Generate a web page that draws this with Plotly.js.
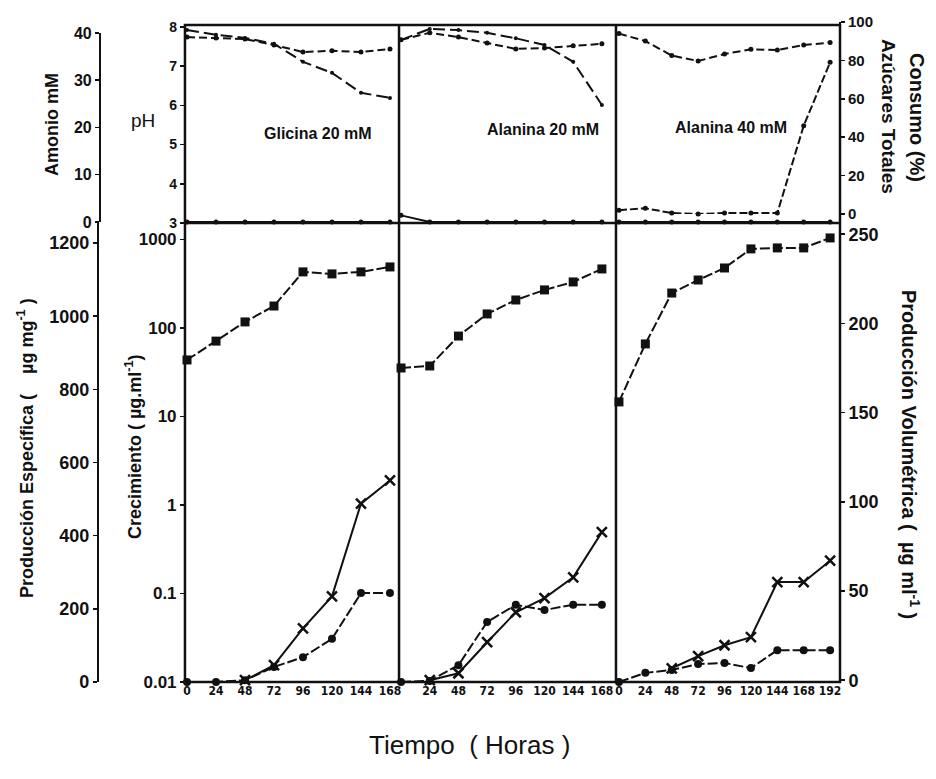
<!DOCTYPE html>
<html><head><meta charset="utf-8">
<script src="https://cdn.plot.ly/plotly-3.0.1.min.js"></script>
<style>html,body{margin:0;padding:0;background:#fff}</style>
</head><body><div id="chart" style="width:936px;height:779px"></div>
<script>
// ---- data ----
const hours168 = [0, 24, 48, 72, 96, 120, 144, 168];
const hours192 = [0, 24, 48, 72, 96, 120, 144, 168, 192];
const ticks168 = ['0', '24', '48', '72', '96', '120', '144', '168'];
const ticks168b = ['24', '48', '72', '96', '120', '144', '168'];
const ticks192 = ['0', '24', '48', '72', '96', '120', '144', '168', '192'];
const panelNames = ['Glicina 20 mM', 'Alanina 20 mM', 'Alanina 40 mM'];

// upper panel: pH
const phA_gly = [7.74, 7.72, 7.69, 7.54, 7.36, 7.39, 7.36, 7.44];
const phB_gly = [7.92, 7.80, 7.72, 7.57, 7.11, 6.83, 6.32, 6.19];
const phA_ala20 = [7.67, 7.85, 7.74, 7.59, 7.44, 7.46, 7.52, 7.57];
const phB_ala20 = [7.67, 7.95, 7.92, 7.85, 7.71, 7.54, 7.11, 6.01];
const phA_ala40 = [7.83, 7.64, 7.27, 7.13, 7.31, 7.43, 7.41, 7.54, 7.60];
// upper panel: Amonio mM
const amonio_gly = [0, 0, 0, 0, 0, 0, 0, 0];
const amonio_ala20 = [1.4, 0, 0, 0, 0, 0, 0, 0];
const amonio_ala40 = [0, 0, 0, 0, 0, 0, 0, 0, 0];
// upper panel: Consumo azucares totales (%)
const consumo_ala40 = [2, 3, 0.5, 0, 0.5, 0.5, 0.5, 46, 79];

// lower panel: Crecimiento (ug/ml, log)
const growth_gly = [43.5, 71, 117, 177, 430, 408, 430, 489];
const growth_ala20 = [35.3, 37.2, 81, 144, 207, 269, 331, 464];
const growth_ala40 = [14.6, 66, 248, 348, 476, 782, 802, 802, 1040];
// lower panel: Produccion especifica (ug/mg)
const esp_gly = [0, 0, 5, 41, 68, 118, 243, 243];
const esp_ala20 = [0, 3, 46, 164, 211, 197, 211, 211];
const esp_ala40 = [0, 25, 33, 49, 52, 38, 87, 87, 87];
// lower panel: Produccion volumetrica (ug/ml)
const vol_gly = [null, null, 0, 8.4, 29.1, 47, 99, 112];
const vol_ala20 = [null, 0, 3.9, 21.3, 38.1, 46, 57.7, 83];
const vol_ala40 = [null, null, 6.7, 13.5, 19.6, 24.1, 55, 55, 67];

// ---- styles ----
const BLK = '#111';
const FONT = 'Liberation Sans, Arial, Helvetica, sans-serif';
const NARROW = 'Liberation Sans Narrow, DejaVu Sans Condensed, Arial Narrow, sans-serif';

function tr(x, y, xa, ya, opt) {
  return Object.assign({
    type: 'scatter', mode: 'lines+markers', x: x, y: y, xaxis: xa, yaxis: ya,
    cliponaxis: false, showlegend: false, hoverinfo: 'skip',
    line: {color: BLK, width: 2},
    marker: {color: BLK, size: 5, symbol: 'circle'}
  }, opt || {});
}
const phAStyle = {line: {color: BLK, width: 2, dash: '8px,4px'}, marker: {color: BLK, size: 5}};
const phBStyle = {line: {color: BLK, width: 2, dash: '12px,5px'}, marker: {color: BLK, size: 4}};
const baseStyle = {line: {color: BLK, width: 2}, marker: {color: BLK, size: 5}};
const sqStyle = {line: {color: BLK, width: 2, dash: '10px,3px'}, marker: {color: BLK, size: 9, symbol: 'square'}};
const ciStyle = {line: {color: BLK, width: 2, dash: '10px,3px'}, marker: {color: BLK, size: 8, symbol: 'circle'}};
const xStyle = {line: {color: BLK, width: 2}, marker: {color: BLK, size: 10, symbol: 'x-thin-open', line: {color: BLK, width: 2.5}}};

const data = [
  tr(hours168, phA_gly, 'x', 'y', phAStyle),
  tr(hours168, phB_gly, 'x', 'y', phBStyle),
  tr(hours168, phA_ala20, 'x2', 'y', phAStyle),
  tr(hours168, phB_ala20, 'x2', 'y', phBStyle),
  tr(hours192, phA_ala40, 'x3', 'y', phAStyle),
  tr(hours168, amonio_gly, 'x', 'y2', baseStyle),
  tr(hours168, amonio_ala20, 'x2', 'y2', baseStyle),
  tr(hours192, amonio_ala40, 'x3', 'y2', baseStyle),
  tr(hours192, consumo_ala40, 'x3', 'y5', {line: {color: BLK, width: 2, dash: '8px,3px'}, marker: {color: BLK, size: 5}}),
  tr(hours168, growth_gly, 'x', 'y3', sqStyle),
  tr(hours168, growth_ala20, 'x2', 'y3', sqStyle),
  tr(hours192, growth_ala40, 'x3', 'y3', sqStyle),
  tr(hours168, esp_gly, 'x', 'y4', ciStyle),
  tr(hours168, esp_ala20, 'x2', 'y4', ciStyle),
  tr(hours192, esp_ala40, 'x3', 'y4', ciStyle),
  tr(hours168, vol_gly, 'x', 'y6', xStyle),
  tr(hours168, vol_ala20, 'x2', 'y6', xStyle),
  tr(hours192, vol_ala40, 'x3', 'y6', xStyle)
];

// geometry (paper fractions); plot area x: 97..840 px
const P0 = 0.1184, P1 = 0.4065, P2 = 0.6985, LOW = 0.6913, TOP = 0.9895;

const xTickFont = {family: NARROW, size: 12, color: BLK, weight: 'bold'};
function xax(dom, rng, vals, text) {
  return {domain: dom, range: rng, anchor: 'y3', showgrid: false, zeroline: false,
    showline: false, ticks: '', tickvals: vals, ticktext: text, tickfont: xTickFont, fixedrange: true};
}
function yTick(size) { return {family: FONT, size: size, color: BLK, weight: 'bold'}; }
const common = {showgrid: false, zeroline: false, ticks: 'outside', ticklen: 4, tickwidth: 1.5, tickcolor: BLK, fixedrange: true};

const layout = {
  width: 936, height: 779,
  margin: {l: 97, r: 96, t: 18, b: 97},
  paper_bgcolor: '#fff', plot_bgcolor: 'rgba(0,0,0,0)',
  showlegend: false,
  xaxis: xax([P0, P1], [-1.7, 175.5], hours168, ticks168),
  xaxis2: xax([P1, P2], [-1.7, 179.8], hours168.slice(1), ticks168b),
  xaxis3: xax([P2, 1], [-2.7, 201], hours192, ticks192),
  yaxis: Object.assign({}, common, {domain: [LOW, TOP], range: [3, 8.05], anchor: 'x',
    tickvals: [3, 4, 5, 6, 7, 8], tickfont: yTick(14), showline: false}),
  yaxis2: Object.assign({}, common, {domain: [0.6928, 0.9774], range: [0, 40], anchor: 'free', position: 0.004,
    tickvals: [0, 10, 20, 30, 40], tickfont: yTick(16), showline: true, linewidth: 2, linecolor: BLK}),
  yaxis3: Object.assign({}, common, {domain: [0, LOW], type: 'log', range: [-2, 3.186], anchor: 'x',
    tickvals: [0.01, 0.1, 1, 10, 100, 1000], ticktext: ['0.01', '0.1', '1', '10', '100', '1000'],
    tickfont: yTick(17), showline: false}),
  yaxis4: Object.assign({}, common, {domain: [0, LOW], range: [0, 1255], anchor: 'free', position: 0.0013,
    tickvals: [0, 200, 400, 600, 800, 1000, 1200], tickfont: yTick(18), showline: true, linewidth: 2, linecolor: BLK}),
  yaxis5: Object.assign({}, common, {domain: [0.7048, 0.994], range: [0, 100], anchor: 'free', position: 1, side: 'right',
    tickvals: [0, 20, 40, 60, 80, 100], tickfont: yTick(15), showline: true, linewidth: 2, linecolor: BLK}),
  yaxis6: Object.assign({}, common, {domain: [0, LOW], range: [-1, 256.3], anchor: 'free', position: 1, side: 'right',
    tickvals: [0, 50, 100, 150, 200, 250], tickfont: yTick(18), showline: true, linewidth: 2, linecolor: BLK}),
  shapes: [
    {type: 'rect', xref: 'paper', yref: 'paper', x0: P0, x1: 1, y0: 0, y1: TOP, line: {color: BLK, width: 2.5}},
    {type: 'line', xref: 'paper', yref: 'paper', x0: P0, x1: 1, y0: LOW, y1: LOW, line: {color: BLK, width: 2.5}},
    {type: 'line', xref: 'paper', yref: 'paper', x0: P1, x1: P1, y0: 0, y1: TOP, line: {color: BLK, width: 2.5}},
    {type: 'line', xref: 'paper', yref: 'paper', x0: P2, x1: P2, y0: 0, y1: TOP, line: {color: BLK, width: 2.5}}
  ],
  annotations: [
    {text: 'Amonio mM', x: -0.0606, y: 0.8404, textangle: -90, font: {family: FONT, size: 18, color: BLK, weight: 'bold'}},
    {text: 'pH', x: 0.0619, y: 0.8449, font: {family: FONT, size: 19, color: BLK}},
    {text: 'Producción Específica (    µg mg<sup>-1</sup> )', x: -0.0969, y: 0.3524, textangle: -90, font: {family: FONT, size: 18, color: BLK, weight: 'bold'}},
    {text: 'Crecimiento ( µg.ml<sup>-1</sup>)', x: 0.0485, y: 0.3539, textangle: -90, font: {family: FONT, size: 18, color: BLK, weight: 'bold'}},
    {text: panelNames[0], x: 0.2974, y: 0.8268, font: {family: FONT, size: 16, color: BLK, weight: 'bold'}},
    {text: panelNames[1], x: 0.6003, y: 0.8328, font: {family: FONT, size: 16, color: BLK, weight: 'bold'}},
    {text: panelNames[2], x: 0.8533, y: 0.8358, font: {family: FONT, size: 16, color: BLK, weight: 'bold'}},
    {text: 'Azúcares Totales', x: 1.0659, y: 0.8509, textangle: 90, font: {family: FONT, size: 19, color: BLK, weight: 'bold'}},
    {text: 'Consumo (%)', x: 1.1036, y: 0.8494, textangle: 90, font: {family: FONT, size: 20, color: BLK, weight: 'bold'}},
    {text: 'Producción Volumétrica (  µg ml<sup>-1</sup> )', x: 1.0942, y: 0.3419, textangle: 90, font: {family: FONT, size: 20, color: BLK, weight: 'bold'}},
    {text: 'Tiempo  ( Horas )', x: 0.5020, y: -0.0949, font: {family: FONT, size: 26, color: BLK}}
  ].map(a => Object.assign({xref: 'paper', yref: 'paper', showarrow: false, xanchor: 'center', yanchor: 'middle'}, a))
};

Plotly.newPlot('chart', data, layout, {staticPlot: true, displayModeBar: false});
</script>
</body></html>
